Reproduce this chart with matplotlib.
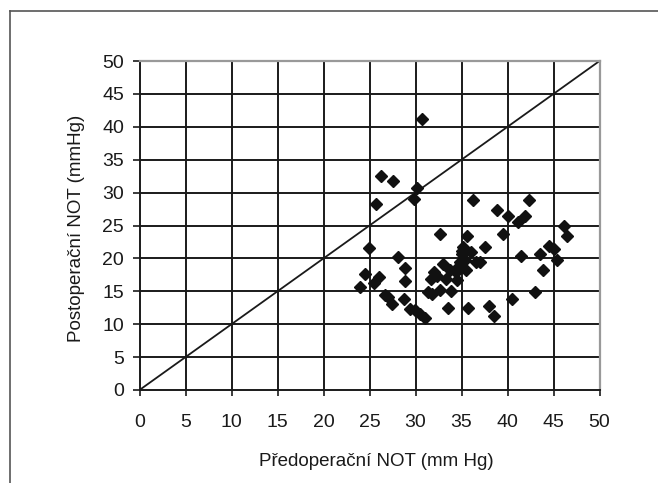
import matplotlib
matplotlib.use("Agg")
import matplotlib.pyplot as plt
from matplotlib.lines import Line2D

plt.rcParams['font.family'] = ['Liberation Sans', 'DejaVu Sans']

# predoperacni / postoperacni NOT (mm Hg)
pre_not = [24.0, 24.5, 24.9, 25.5, 25.7, 26.0, 26.3, 26.7, 27.0, 27.4,
           27.6, 28.1, 28.7, 28.9, 28.9, 29.4, 29.8, 29.9, 30.2, 30.5,
           30.7, 31.0, 31.4, 31.8, 31.7, 32.0, 32.3, 32.7, 32.7, 33.0,
           33.3, 33.5, 33.8, 33.9, 34.4, 34.5, 34.8, 35.0, 35.2, 35.4,
           35.5, 35.6, 35.7, 36.0, 36.3, 36.6, 37.0, 37.6, 38.0, 38.5,
           38.9, 39.5, 40.0, 40.5, 41.1, 41.5, 41.9, 42.3, 43.0, 43.5,
           43.9, 44.5, 45.0, 45.4, 46.1, 46.5, 35.1, 34.7]
post_not = [15.6, 17.7, 21.6, 16.2, 28.3, 17.1, 32.5, 14.5, 14.1, 13.1,
            31.8, 20.2, 13.8, 18.5, 16.5, 12.3, 29.0, 12.1, 30.7, 11.6,
            41.2, 11.0, 14.9, 14.6, 16.8, 17.9, 17.4, 15.2, 23.7, 19.2,
            16.8, 12.5, 18.3, 15.0, 17.9, 16.7, 19.5, 20.6, 21.7, 19.8,
            18.3, 23.4, 12.5, 21.0, 28.8, 19.4, 19.4, 21.8, 12.8, 11.3,
            27.3, 23.7, 26.4, 13.8, 25.6, 20.3, 26.4, 28.8, 14.9, 20.7,
            18.2, 21.9, 21.4, 19.8, 24.9, 23.4, 21.1, 18.9]

ticks = list(range(0, 51, 5))

fig = plt.figure(figsize=(6.58, 4.83), dpi=100)
ax = fig.add_axes([139.5 / 658, 1 - 390 / 483, 460 / 658, 329 / 483])

# mrizka
for t in ticks[1:-1]:
    ax.axvline(t, color='#1a1a1a', lw=1.4, zorder=1)
    ax.axhline(t, color='#1a1a1a', lw=1.4, zorder=1)

# diagonala y = x
ax.plot([0, 50], [0, 50], color='#1a1a1a', lw=1.3, zorder=2)

ax.plot(pre_not, post_not, linestyle='none', marker='D', ms=6.2,
        color='#111111', zorder=3)

ax.set_xlim(0, 50)
ax.set_ylim(0, 50)
ax.set_xticks(ticks)
ax.set_yticks(ticks)

for s in ['left', 'bottom']:
    ax.spines[s].set_color('#1a1a1a')
    ax.spines[s].set_linewidth(1.4)
for s in ['top', 'right']:
    ax.spines[s].set_color('#999999')
    ax.spines[s].set_linewidth(1.6)

ax.tick_params(axis='x', direction='out', length=4, width=1.2, pad=13,
               labelsize=14, colors='#1a1a1a')
ax.tick_params(axis='y', direction='out', length=5, width=1.2, pad=6,
               labelsize=14, colors='#1a1a1a')

ax.set_xlabel('Předoperační NOT (mm Hg)', fontsize=13.5, color='#1a1a1a')
ax.set_ylabel('Postoperační NOT (mmHg)', fontsize=13.5, color='#1a1a1a')
ax.xaxis.set_label_coords(0.515, -0.19)
ax.yaxis.set_label_coords(-0.118, 0.49)

# vnejsi ramecek (jen horni a leva hrana jsou videt)
fig.add_artist(Line2D([10 / 658, 10 / 658], [0, 1 - 11 / 483],
                      transform=fig.transFigure, color='#555555', lw=1.2))
fig.add_artist(Line2D([10 / 658, 1], [1 - 11 / 483, 1 - 11 / 483],
                      transform=fig.transFigure, color='#555555', lw=1.2))

fig.savefig('out.png', dpi=100)
